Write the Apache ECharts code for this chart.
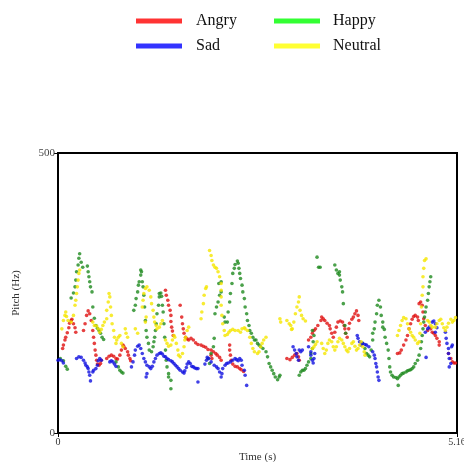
<!DOCTYPE html>
<html>
<head>
<meta charset="utf-8">
<script src="https://cdn.jsdelivr.net/npm/echarts@6/dist/echarts.min.js"></script>
<style>
  html, body { margin: 0; padding: 0; background: #fff; }
  #chart { width: 464px; height: 462px; }
</style>
</head>
<body>
<div id="chart"></div>
<script>
// pitch tracks, [time (s), pitch (Hz)]
var angryPts = [
  [0.06,151],[0.07,157],[0.09,166],[0.10,171],[0.12,179],[0.14,188],[0.15,196],[0.17,201],[0.18,203],[0.20,195],[0.22,188],[0.23,180],
  [0.33,183],[0.35,195],[0.37,210],[0.39,218],[0.41,213],[0.43,201],[0.45,183],[0.46,171],[0.47,160],[0.48,148],[0.49,139],[0.50,130],[0.51,123],[0.53,121],[0.55,124],[0.56,130],
  [0.63,133],[0.66,137],[0.69,139],[0.72,137],[0.75,133],[0.77,132],[0.80,139],[0.82,148],[0.84,157],[0.85,155],[0.87,151],[0.90,145],[0.91,139],[0.93,133],[0.94,129],
  [1.39,255],[1.40,246],[1.42,237],[1.43,228],[1.45,219],[1.46,210],[1.46,199],[1.47,189],[1.48,182],[1.49,174],
  [1.58,228],[1.60,207],[1.61,195],[1.62,186],[1.63,178],[1.65,171],[1.67,168],[1.69,166],[1.72,169],[1.75,166],[1.78,161],[1.81,158],[1.85,157],[1.88,155],[1.91,153],[1.94,149],[1.98,148],[1.98,139],[1.99,133],[2.01,145],[2.04,142],[2.06,139],[2.09,135],[2.11,130],
  [2.22,157],[2.22,148],[2.23,139],[2.24,130],[2.26,123],[2.29,119],[2.32,118],[2.35,115],[2.37,113],[2.40,110],
  [2.96,133],[3.00,131],[3.03,135],[3.06,139],[3.09,142],[3.11,136],[3.12,130],
  [3.24,166],[3.27,171],[3.29,178],[3.31,183],[3.33,186],[3.36,192],[3.40,201],[3.41,207],[3.43,204],[3.45,201],[3.48,196],[3.51,192],[3.52,186],[3.54,178],[3.56,171],[3.58,180],[3.60,189],[3.62,198],[3.65,200],[3.68,198],[3.70,192],[3.71,186],[3.72,178],[3.74,171],[3.76,186],[3.77,196],[3.80,203],[3.82,207],[3.84,213],[3.86,218],[3.88,210],[3.89,201],
  [4.39,142],[4.42,143],[4.44,148],[4.47,157],[4.50,166],[4.52,174],[4.54,186],[4.56,195],[4.58,203],[4.60,208],[4.62,210],[4.65,207],[4.66,201],
  [4.67,231],[4.69,234],[4.71,228],[4.72,216],[4.73,204],[4.75,192],[4.78,183],[4.82,186],[4.84,180],[4.86,178],[4.88,174],[4.90,169],[4.93,163],[4.93,157],
  [5.05,142],[5.08,133],[5.10,127],[5.12,125],[5.14,125]
];
var happyPts = [
  [0.03,133],[0.07,129],[0.10,119],[0.12,114],
  [0.17,241],[0.20,250],[0.22,261],[0.23,273],[0.24,288],[0.26,300],[0.27,312],[0.28,320],[0.30,305],[0.32,296],
  [0.38,298],[0.39,288],[0.40,279],[0.41,270],[0.42,261],[0.44,252],[0.45,225],[0.47,205],[0.49,192],[0.51,187],[0.53,183],[0.55,178],[0.57,171],[0.59,167],
  [0.75,127],[0.78,118],[0.80,112],[0.82,109],[0.84,107],
  [0.98,219],[1.00,228],[1.01,240],[1.03,252],[1.04,264],[1.05,270],[1.07,282],[1.07,291],[1.08,288],[1.09,270],[1.10,261],[1.11,246],[1.12,225],[1.13,201],[1.14,183],[1.15,171],[1.17,160],[1.18,148],[1.21,145],[1.23,154],[1.24,163],[1.25,171],[1.26,183],[1.27,195],[1.28,213],[1.30,228],[1.31,243],[1.31,249],[1.33,250],[1.34,244],[1.35,228],[1.36,216],[1.37,195],[1.38,171],[1.39,148],[1.40,130],[1.41,118],[1.43,106],[1.43,100],[1.46,94],[1.46,79],
  [1.94,133],[1.96,124],[1.98,142],[2.01,154],[2.02,169],[2.03,213],[2.05,225],[2.07,234],[2.09,246],[2.11,252],[2.11,270],[2.08,267],[2.15,207],[2.16,198],[2.19,198],[2.20,216],[2.22,234],[2.23,249],[2.25,267],[2.26,285],[2.28,294],[2.29,301],[2.32,307],[2.33,303],[2.34,294],[2.35,285],[2.36,276],[2.38,264],[2.39,252],[2.41,240],[2.42,225],[2.44,213],[2.45,201],[2.47,192],[2.48,183],[2.50,178],[2.52,171],[2.54,166],
  [2.56,166],[2.58,160],[2.60,157],[2.62,154],[2.65,151],[2.69,145],[2.71,136],[2.73,124],[2.75,118],[2.77,112],[2.79,106],[2.81,100],[2.84,95],[2.86,100],[2.87,103],
  [3.12,103],[3.14,109],[3.16,112],[3.18,112],[3.20,115],[3.22,121],[3.24,127],[3.27,133],[3.27,142],[3.29,151],[3.30,163],[3.31,174],[3.29,183],
  [3.35,314],[3.37,296],[3.39,296],
  [3.58,300],[3.60,291],[3.62,285],[3.64,288],[3.64,282],[3.65,273],[3.67,261],[3.68,252],[3.69,231],[3.71,192],[3.72,178],
  [3.94,160],[3.97,151],[3.99,142],[4.01,139],[4.03,136],[4.05,148],[4.07,166],[4.07,178],[4.09,186],[4.10,198],[4.12,213],[4.13,228],[4.15,237],[4.17,225],[4.18,210],[4.20,198],[4.20,189],[4.22,185],[4.23,171],[4.25,160],
  [4.27,148],[4.28,133],[4.29,118],[4.30,109],[4.32,103],[4.34,100],[4.37,99],[4.39,97],[4.40,85],[4.41,100],[4.43,103],[4.45,106],[4.47,107],[4.50,109],[4.52,111],[4.54,112],[4.56,113],[4.58,115],[4.60,118],[4.62,124],[4.65,130],[4.67,139],[4.69,151],[4.70,163],[4.71,174],[4.72,186],[4.73,198],[4.74,207],[4.75,216],[4.76,225],[4.78,237],[4.79,249],[4.80,261],[4.81,270],[4.82,279]
];
var sadPts = [
  [0.00,130],[0.02,131],[0.05,129],[0.07,125],
  [0.24,133],[0.27,136],[0.30,135],[0.33,130],[0.35,125],[0.36,121],[0.38,118],[0.39,115],[0.40,109],[0.41,103],[0.42,93],[0.45,109],[0.46,112],[0.49,115],[0.51,121],[0.52,129],[0.54,133],[0.56,130],
  [0.67,127],[0.69,129],[0.71,127],[0.73,123],[0.75,119],
  [0.95,118],[0.97,127],[0.99,139],[1.00,148],[1.03,155],[1.05,157],[1.07,151],[1.09,142],[1.11,133],[1.13,127],[1.15,121],[1.18,118],[1.20,115],[1.22,119],[1.24,127],[1.26,133],[1.28,139],[1.31,142],[1.33,143],[1.35,141],[1.37,137],[1.39,136],[1.41,133],[1.43,131],[1.46,129],[1.48,127],[1.50,124],[1.52,121],[1.54,118],[1.56,115],[1.58,112],[1.61,109],[1.63,107],[1.64,111],[1.66,117],[1.67,123],[1.69,127],
  [1.14,100],[1.15,106],
  [1.71,124],[1.73,119],[1.75,118],[1.77,116],[1.79,115],[1.81,115],[1.81,91],
  [1.90,123],[1.92,130],[1.93,135],[1.95,133],[1.98,127],[2.02,121],[2.05,118],[2.07,115],[2.09,109],[2.11,100],[2.12,106],[2.13,115],[2.16,121],[2.18,124],[2.20,125],[2.23,127],[2.26,130],[2.29,133],[2.31,131],[2.33,129],[2.35,133],[2.37,130],[2.38,121],[2.41,112],[2.42,103],[2.44,85],
  [3.04,154],[3.06,148],[3.08,142],[3.09,136],[3.11,130],[3.12,148],[3.14,145],[3.16,148],
  [3.24,154],[3.27,145],[3.27,139],[3.29,130],[3.30,125],[3.31,133],[3.32,142],
  [3.87,174],[3.88,169],[3.90,163],[3.92,157],[3.94,160],[3.97,158],[3.99,157],[4.02,154],[4.07,145],[4.09,139],[4.10,133],[4.11,124],[4.12,118],[4.13,109],[4.14,100],[4.15,94],
  [4.75,180],[4.78,186],[4.80,189],[4.84,198],[4.86,200],[4.88,195],[4.90,188],[4.88,180],[4.76,135],
  [5.01,180],[5.02,169],[5.03,160],[5.05,151],[5.05,142],[5.06,133],[5.08,124],[5.06,118],[5.09,154],[5.10,157]
];
var neutralPts = [
  [0.05,186],[0.07,201],[0.09,210],[0.10,216],[0.11,208],[0.13,201],
  [0.17,198],[0.20,210],[0.22,228],[0.23,237],[0.24,249],[0.25,261],[0.26,273],[0.27,285],[0.28,291],
  [0.45,198],[0.47,192],[0.50,191],[0.52,186],[0.54,180],[0.56,185],[0.58,192],[0.60,198],[0.63,204],[0.63,219],[0.65,234],[0.66,249],[0.67,243],[0.68,225],[0.69,210],[0.70,195],[0.72,183],[0.73,171],[0.75,160],[0.76,166],[0.78,171],[0.80,174],[0.82,160],[0.84,154],
  [0.87,186],[0.88,178],[0.90,171],[1.00,186],[1.03,178],
  [1.09,225],[1.10,237],[1.11,249],[1.13,258],[1.15,261],[1.18,255],[1.20,243],[1.21,231],[1.23,219],[1.24,207],[1.25,198],[1.27,192],[1.28,186],[1.31,189],[1.33,195],[1.35,201],[1.14,207],[1.13,198],
  [1.39,166],[1.41,160],[1.43,155],[1.46,157],[1.48,166],[1.50,174],[1.51,171],[1.53,160],[1.55,148],[1.56,139],[1.58,136],[1.61,142],[1.63,154],[1.64,166],[1.65,171],[1.67,183],[1.69,189],
  [1.85,204],[1.86,216],[1.88,231],[1.89,246],[1.91,258],[1.92,261],
  [1.96,326],[1.98,317],[1.99,308],[2.01,300],[2.03,296],[2.05,294],[2.07,288],[2.09,279],[2.11,267],[2.11,255],[2.11,243],[2.11,228],[2.12,210],[2.13,195],[2.15,183],[2.16,174],[2.19,176],[2.21,180],[2.23,183],[2.26,185],[2.29,183],[2.33,183],[2.36,180],[2.38,186],[2.41,188],[2.42,186],[2.45,183],[2.48,171],[2.50,160],[2.52,151],[2.54,145],
  [2.58,142],[2.60,145],[2.62,154],[2.64,160],[2.66,166],[2.69,171],
  [2.87,204],[2.88,198],[2.96,201],[2.99,195],[3.01,192],[3.02,185],[3.03,186],[3.05,198],[3.07,213],[3.09,225],[3.11,234],[3.12,243],[3.13,219],[3.15,210],[3.17,204],[3.20,200],
  [3.29,151],[3.31,154],[3.33,158],[3.35,163],
  [3.41,160],[3.43,151],[3.45,142],[3.47,148],[3.49,160],[3.51,166],[3.54,163],[3.56,154],[3.58,148],[3.60,154],[3.62,163],[3.64,169],[3.67,166],[3.69,160],[3.71,154],[3.73,148],[3.75,145],[3.77,151],[3.80,160],[3.82,163],[3.84,155],[3.86,148],[3.88,151],[3.90,157],[3.92,163],[3.94,154],[3.96,145],[3.97,139],
  [4.39,174],[4.41,183],[4.43,192],[4.45,201],[4.47,206],[4.50,204],[4.52,195],[4.54,186],[4.56,180],[4.58,174],[4.60,171],[4.62,166],[4.65,160],[4.67,163],[4.68,178],[4.69,195],[4.70,225],[4.71,246],[4.72,261],[4.72,279],[4.73,294],[4.74,308],[4.76,311],
  [4.78,201],[4.80,198],[4.82,192],[4.84,189],[4.88,189],[4.90,195],[4.93,201],[4.95,203],[4.97,195],[4.99,188],[5.01,183],[5.03,189],[5.05,196],[5.08,203],[5.10,198],[5.12,201],[5.14,206]
];

var timeMax = 5.16;
var pitchTicks = [0, 500];

var chart = echarts.init(document.getElementById('chart'));
var serif = '"Liberation Serif", "DejaVu Serif", serif';

function dots(name, data, color) {
  return {
    name: name,
    type: 'scatter',
    data: data,
    symbolSize: 3.6,
    itemStyle: { color: color },
    silent: true
  };
}

chart.setOption({
  animation: false,
  backgroundColor: '#fff',
  legend: [{
    orient: 'vertical',
    left: 131, top: 8,
    itemWidth: 46, itemHeight: 5, itemGap: 9,
    icon: 'rect',
    textStyle: { fontFamily: serif, fontSize: 16, color: '#111', padding: [0, 0, 0, 9] },
    data: [
      { name: 'Angry', itemStyle: { color: '#ff0000' } },
      { name: 'Sad', itemStyle: { color: '#0000ff' } }
    ]
  }, {
    orient: 'vertical',
    left: 269, top: 8,
    itemWidth: 46, itemHeight: 5, itemGap: 9,
    icon: 'rect',
    textStyle: { fontFamily: serif, fontSize: 16, color: '#111', padding: [0, 0, 0, 8] },
    data: [
      { name: 'Happy', itemStyle: { color: '#00ff00' } },
      { name: 'Neutral', itemStyle: { color: '#ffff00' } }
    ]
  }],
  grid: {
    left: 58, right: 7, top: 153, bottom: 29,
    outerBoundsMode: 'none', containLabel: false,
    show: true, borderColor: '#000', borderWidth: 2, backgroundColor: 'transparent'
  },
  xAxis: {
    type: 'value',
    min: 0, max: timeMax, interval: timeMax,
    name: 'Time (s)', nameLocation: 'middle', nameGap: 18,
    nameTextStyle: { fontFamily: serif, fontSize: 11, color: '#333' },
    axisLine: { lineStyle: { color: '#000', width: 2 } },
    axisTick: { length: 4, lineStyle: { color: '#000' } },
    axisLabel: { fontFamily: serif, fontSize: 10, color: '#333', margin: 4,
      formatter: function (v) { return v === 0 ? '0' : v.toFixed(2); } },
    splitLine: { show: false }
  },
  yAxis: {
    type: 'value',
    min: pitchTicks[0], max: pitchTicks[1], interval: pitchTicks[1] - pitchTicks[0],
    name: 'Pitch (Hz)', nameLocation: 'middle', nameGap: 36, nameRotate: 90,
    nameTextStyle: { fontFamily: serif, fontSize: 11, color: '#333' },
    axisLine: { lineStyle: { color: '#000', width: 2 } },
    axisTick: { length: 4, lineStyle: { color: '#000' } },
    axisLabel: { fontFamily: serif, fontSize: 11, color: '#444', margin: 3 },
    splitLine: { show: false }
  },
  series: [
    dots('Angry', angryPts, '#e01010'),
    dots('Happy', happyPts, '#1e8a1e'),
    dots('Sad', sadPts, '#1010e0'),
    dots('Neutral', neutralPts, '#f5e600')
  ]
});
</script>
</body>
</html>
